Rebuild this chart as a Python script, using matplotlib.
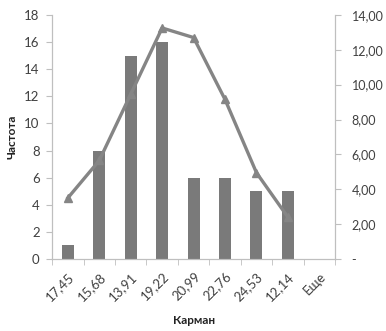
import matplotlib

matplotlib.use("Agg")

import matplotlib.pyplot as plt
from matplotlib.ticker import FixedLocator, FuncFormatter

plt.rcParams["font.family"] = ["Lato", "DejaVu Sans"]

# histogram bins and frequencies
bins = ["17,45", "15,68", "13,91", "19,22", "20,99", "22,76", "24,53", "12,14", "Еще"]
counts = [1, 8, 15, 16, 6, 6, 5, 5, 0]
# fitted curve on the secondary axis (no value for the "Еще" bin)
curve = [3.5, 5.65, 9.45, 13.25, 12.7, 9.15, 4.95, 2.4]

BAR_COLOR = "#7a7a7a"
LINE_COLOR = "#858585"
SPINE_COLOR = "#bfbfbf"
TEXT_COLOR = "#404040"

fig = plt.figure(figsize=(3.86, 3.31), dpi=100)
ax = fig.add_axes([0.135, 0.2175, 0.733, 0.7375])
ax2 = ax.twinx()

x = list(range(len(bins)))
ax.bar(x, counts, width=0.38, color=BAR_COLOR, zorder=2)
ax2.plot(x[: len(curve)], curve, color=LINE_COLOR, lw=2.4, marker="^", ms=6,
         markeredgecolor=LINE_COLOR, zorder=3)

ax.set_xlim(-0.5, len(bins) - 0.5)
ax.set_ylim(0, 18)
ax.set_yticks(range(0, 19, 2))
ax2.set_ylim(0, 14)
ax2.set_yticks(range(0, 15, 2))
ax2.yaxis.set_major_formatter(FuncFormatter(lambda v, _: "-" if v == 0 else f"{v:.2f}".replace(".", ",")))

ax.set_xticks(x)
ax.set_xticklabels(bins, rotation=45, ha="right", rotation_mode="anchor")
ax.xaxis.set_minor_locator(FixedLocator([i - 0.5 for i in range(len(bins) + 1)]))
ax.tick_params(axis="x", which="major", length=0, pad=8)
ax.tick_params(axis="x", which="minor", length=4, color=SPINE_COLOR)
ax.tick_params(axis="y", length=4, color=SPINE_COLOR, pad=5)

for a in (ax, ax2):
    a.spines["top"].set_visible(False)
    for side in ("left", "right", "bottom"):
        a.spines[side].set_color(SPINE_COLOR)
    a.tick_params(labelsize=9.5, labelcolor=TEXT_COLOR)

ax2.tick_params(axis="y", length=4, color=SPINE_COLOR, pad=8, labelsize=9)

ax.set_ylabel("Частота", fontsize=8.5, fontweight="bold", color="#222222", labelpad=5)
ax.set_xlabel("Карман", fontsize=8.5, fontweight="bold", color="#222222", labelpad=9)

fig.savefig("out.png", dpi=100)
